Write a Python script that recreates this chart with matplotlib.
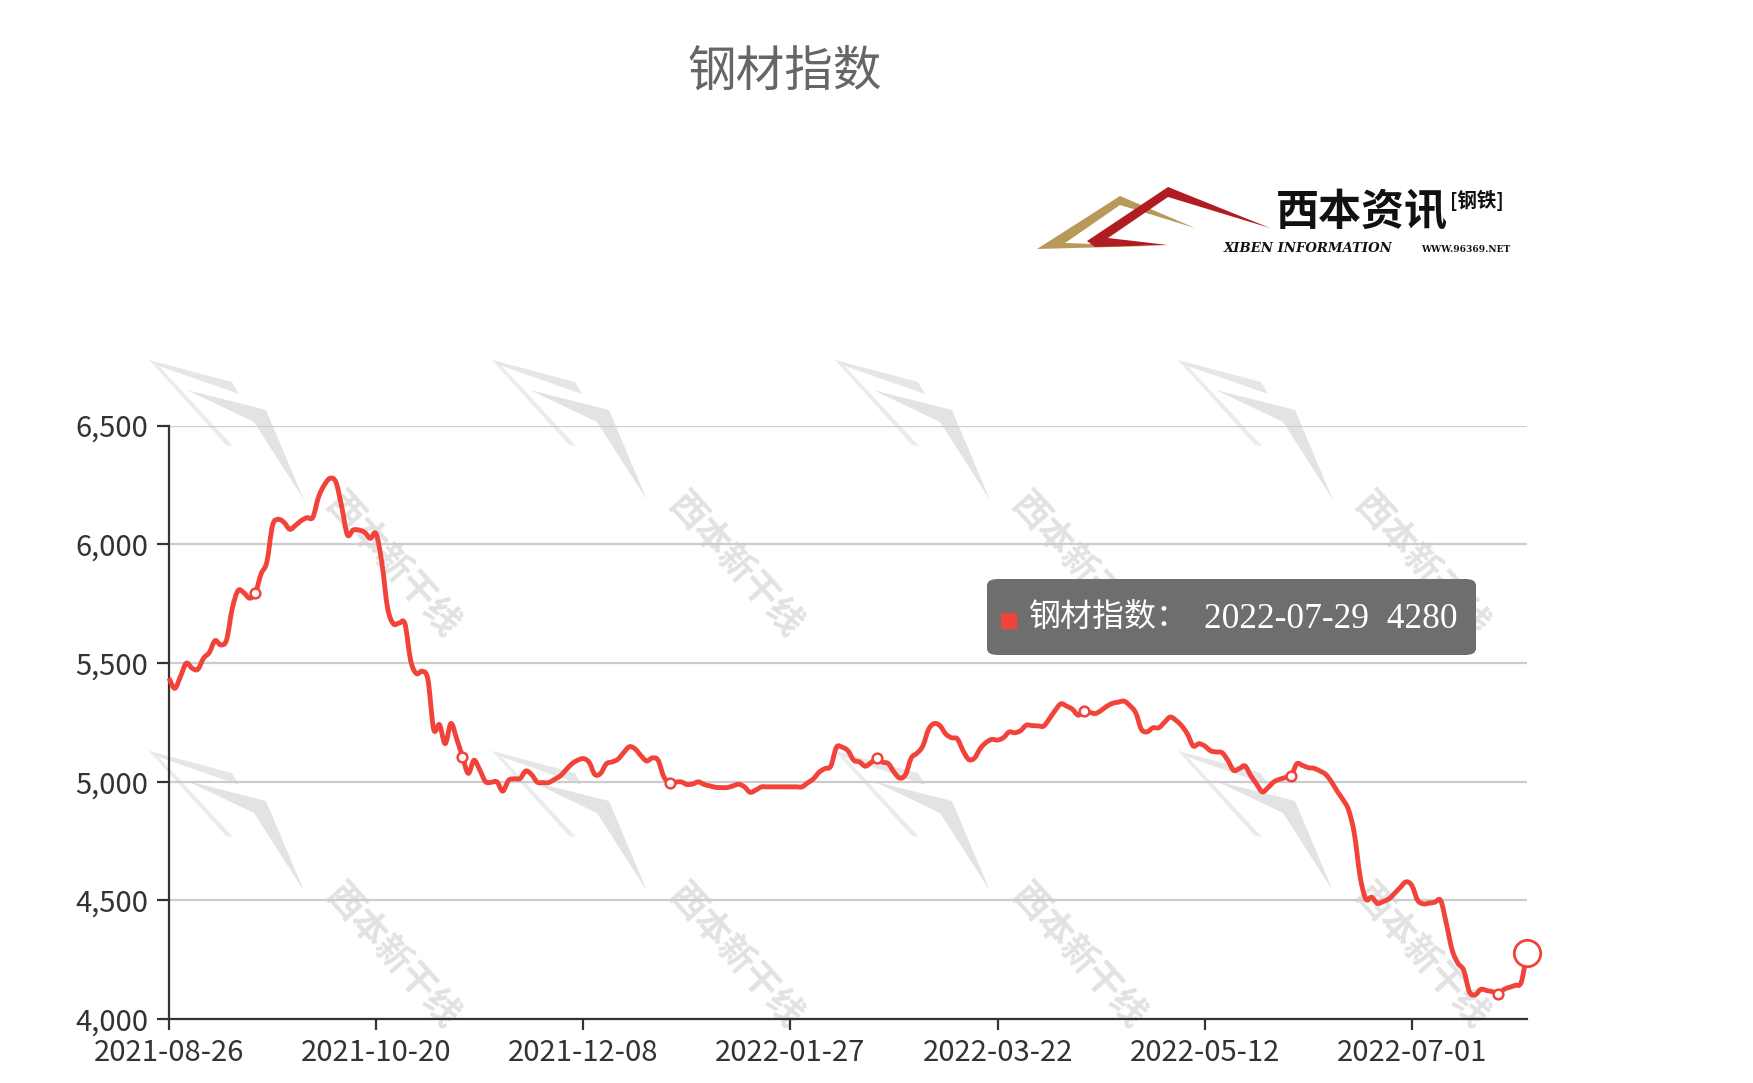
import matplotlib
matplotlib.use("Agg")
import matplotlib.pyplot as plt
from matplotlib.patches import FancyBboxPatch, Polygon, Rectangle, PathPatch
from matplotlib.path import Path

plt.rcParams['font.family'] = ['Noto Sans CJK SC', 'DejaVu Sans']

# ---- data ----
title = "钢材指数"
series_name = "钢材指数"
tick_labels = ["2021-08-26", "2021-10-20", "2021-12-08", "2022-01-27",
               "2022-03-22", "2022-05-12", "2022-07-01"]
tick_step = 36
values = [
    5436, 5393, 5443, 5499, 5478, 5473, 5520, 5544, 5594, 5576,
    5597, 5730, 5805, 5796, 5773, 5794, 5875, 5925, 6080, 6105,
    6092, 6063, 6080, 6100, 6112, 6114, 6200, 6250, 6278, 6262,
    6160, 6040, 6060, 6060, 6050, 6025, 6044, 5920, 5730, 5665,
    5668, 5665, 5510, 5455, 5465, 5430, 5220, 5240, 5160, 5245,
    5180, 5105, 5035, 5090, 5050, 5000, 4997, 4999, 4960, 5005,
    5012, 5013, 5045, 5030, 4998, 4996, 4996, 5010, 5024, 5050,
    5075, 5090, 5097, 5082, 5030, 5035, 5075, 5083, 5094, 5122,
    5147, 5138, 5110, 5087, 5100, 5090, 5020, 4996, 4998, 4999,
    4988, 4990, 4999, 4988, 4982, 4976, 4975, 4975, 4982, 4989,
    4978, 4955, 4965, 4978, 4978, 4978, 4978, 4978, 4978, 4978,
    4978, 4995, 5012, 5040, 5055, 5065, 5145, 5145, 5130, 5090,
    5083, 5065, 5080, 5098, 5082, 5076, 5040, 5015, 5030, 5100,
    5120, 5150, 5220, 5245, 5235, 5200, 5185, 5180, 5130, 5093,
    5100, 5140, 5165, 5178, 5175, 5185, 5209, 5206, 5215, 5238,
    5236, 5235, 5234, 5265, 5300, 5328, 5318, 5305, 5280, 5297,
    5292, 5287, 5300, 5318, 5330, 5335, 5339, 5320, 5290, 5220,
    5210, 5227, 5227, 5250, 5272, 5258, 5235, 5200, 5150, 5160,
    5150, 5130, 5125, 5122, 5090, 5048, 5055, 5066, 5025, 4990,
    4957, 4975, 4999, 5010, 5017, 5024, 5075, 5068, 5059, 5056,
    5045, 5031, 5000, 4960, 4925, 4880, 4780, 4600, 4505, 4513,
    4487, 4495, 4506, 4530, 4555, 4578, 4562, 4500, 4485, 4488,
    4492, 4499, 4400, 4290, 4235, 4205, 4114, 4102, 4125, 4120,
    4115, 4107, 4125, 4134, 4142, 4155, 4280,
]
last_date = "2022-07-29"
y_ticks = [4000, 4500, 5000, 5500, 6000, 6500]

W, H = 1753, 1083
RED = "#f2433a"


def fx(x):
    return x / W


def fy(y):
    return 1 - y / H


def smooth_path(xs, ys, k=6.0):
    # catmull-rom style bezier through the points (like a "smooth" line)
    verts = [(xs[0], ys[0])]
    codes = [Path.MOVETO]
    n = len(xs)
    for i in range(n - 1):
        x0, y0 = xs[max(i - 1, 0)], ys[max(i - 1, 0)]
        x1, y1 = xs[i], ys[i]
        x2, y2 = xs[i + 1], ys[i + 1]
        x3, y3 = xs[min(i + 2, n - 1)], ys[min(i + 2, n - 1)]
        verts += [(x1 + (x2 - x0) / k, y1 + (y2 - y0) / k),
                  (x2 - (x3 - x1) / k, y2 - (y3 - y1) / k),
                  (x2, y2)]
        codes += [Path.CURVE4] * 3
    return Path(verts, codes)


fig = plt.figure(figsize=(W / 100, H / 100), dpi=100)

# ---- background watermarks ----
wm_a = [(0, 0), (83, 22), (90, 34), (10, 6)]
wm_b = [(38, 30), (117, 50), (155, 140), (105, 62)]
wm_c = [(0, 0), (6, 2), (84, 86), (77, 85)]
for col in range(4):
    for row in range(2):
        x0 = 149 + col * 343
        y0 = 360 + row * 391
        for shape, colr in ((wm_a, "#e6e6e6"), (wm_b, "#e3e3e3"), (wm_c, "#ebebeb")):
            fig.patches.append(Polygon([(fx(x0 + a), fy(y0 + b)) for a, b in shape],
                                       closed=True, transform=fig.transFigure,
                                       facecolor=colr, edgecolor="none",
                                       zorder=-2))
        fig.text(fx(x0 + 243), fy(y0 + 205), "西本新干线", fontsize=26,
                 fontweight="bold", color="#e2e2e2", rotation=-48,
                 ha="center", va="center", zorder=-1)

# ---- main axes ----
ax = fig.add_axes([fx(169), fy(1019), fx(1527) - fx(169), fy(425.6) - fy(1019)])
ax.patch.set_alpha(0)
x = list(range(len(values)))
ax.add_patch(PathPatch(smooth_path(x, values), facecolor="none", edgecolor=RED,
                       lw=3.5, joinstyle="round", zorder=3, clip_on=False))
ax.plot(x[15::tick_step], values[15::tick_step], ls="none", marker="o",
        ms=7, mfc="white", mec=RED, mew=1.8, zorder=4, clip_on=False)
ax.plot(x[-1], values[-1], ls="none", marker="o", ms=19, mfc="white",
        mec=RED, mew=2, zorder=4, clip_on=False)

ax.set_xlim(0, len(values) - 1)
ax.set_ylim(4000, 6500)
ax.set_yticks(y_ticks)
ax.set_yticklabels([f"{v:,}" for v in y_ticks])
ax.set_xticks(x[::tick_step])
ax.set_xticklabels(tick_labels)
ax.grid(axis="y", color="#cccccc", lw=1.6)
ax.set_axisbelow(True)
for s in ("top", "right"):
    ax.spines[s].set_visible(False)
for s in ("left", "bottom"):
    ax.spines[s].set_color("#333333")
    ax.spines[s].set_linewidth(1.6)
ax.tick_params(axis="y", length=9, width=1.6, color="#333333", pad=6,
               labelsize=21, labelcolor="#333333")
ax.tick_params(axis="x", length=8, width=1.6, color="#333333", pad=6,
               labelsize=21, labelcolor="#333333")

# ---- title ----
fig.text(fx(785), fy(72), title, fontsize=35, color="#666666",
         ha="center", va="center")

# ---- logo ----
gold = [(1037, 249), (1120, 196), (1195, 228), (1120, 205), (1065, 243), (1150, 246)]
fig.patches.append(Polygon([(fx(a), fy(b)) for a, b in gold], closed=True,
                           transform=fig.transFigure, facecolor="#b8995a",
                           edgecolor="none"))
red = [(1087, 241), (1168, 187), (1270, 228), (1168, 197), (1108, 238), (1168, 245), (1095, 247)]
fig.patches.append(Polygon([(fx(a), fy(b)) for a, b in red], closed=True,
                           transform=fig.transFigure, facecolor="#b01c22",
                           edgecolor="none"))
fig.text(fx(1276), fy(212), "西本资讯", fontsize=31, fontweight="heavy",
         color="#111111", ha="left", va="center")
fig.text(fx(1450), fy(200), "[钢铁]", fontsize=14, fontweight="bold",
         color="#111111", ha="left", va="center")
fig.text(fx(1224), fy(249), "XIBEN INFORMATION", fontsize=9.5,
         fontweight="bold", style="italic", family="DejaVu Serif",
         color="#111111", ha="left", va="center")
fig.text(fx(1421), fy(249), "WWW.96369.NET", fontsize=6.5,
         fontweight="bold", family="DejaVu Serif", color="#111111",
         ha="left", va="center")

# ---- tooltip ----
box = FancyBboxPatch((fx(987), fy(655)), fx(1476) - fx(987), fy(579) - fy(655),
                     boxstyle="round,pad=0,rounding_size=0.006",
                     transform=fig.transFigure, facecolor="#6e6e6e",
                     edgecolor="none", zorder=5)
fig.patches.append(box)
fig.patches.append(Rectangle((fx(1001), fy(629)), fx(1017) - fx(1001),
                             fy(613) - fy(629), transform=fig.transFigure,
                             facecolor=RED, edgecolor="none", zorder=6))
fig.text(fx(1029), fy(618), series_name + "：", fontsize=23, color="white",
         ha="left", va="center", zorder=6)
fig.text(fx(1204), fy(619), f"{last_date}  {values[-1]}", fontsize=25.5,
         family="Liberation Serif", color="white", ha="left", va="center",
         zorder=6)

fig.savefig("out.png", dpi=100)
